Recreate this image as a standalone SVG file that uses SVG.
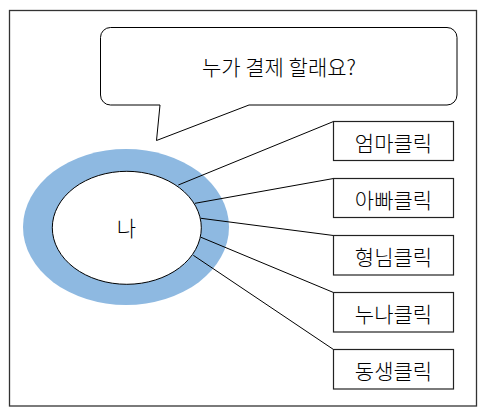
<svg xmlns="http://www.w3.org/2000/svg" width="487" height="416" viewBox="0 0 487 416">
<style>
.t{font-family:"Noto Sans CJK KR","Noto Sans",sans-serif;font-size:21px;font-weight:300;fill:#000;text-anchor:middle;dominant-baseline:central}
.box{fill:#fff;stroke:#222;stroke-width:1.2}
.ln{stroke:#000;stroke-width:1;fill:none}
</style>
<rect width="487" height="416" fill="#fff"/>
<rect id="frame" x="9.5" y="10.5" width="467" height="395.5" fill="none" stroke="#333" stroke-width="1.3"/>
<g id="bubble">
<path d="M110.5,27.5 H447 A10,10 0 0 1 457,37.5 V95 A10,10 0 0 1 447,105 H249 L156.5,140.5 L160,105 H110.5 A10,10 0 0 1 100.5,95 V37.5 A10,10 0 0 1 110.5,27.5 Z" fill="#fff" stroke="#000" stroke-width="1"/>
<text class="t" x="279" y="66">누가 결제 할래요?</text>
</g>
<g id="me">
<ellipse cx="126" cy="227" rx="103" ry="78" fill="#8EB9E1"/>
<ellipse cx="126.8" cy="227.8" rx="74.5" ry="56.5" fill="#fff" stroke="#000" stroke-width="1"/>
<text class="t" x="126.5" y="227">나</text>
</g>
<g id="connectors">
<line class="ln" x1="178.3" y1="185" x2="333.5" y2="121.5"/>
<line class="ln" x1="195" y1="203.3" x2="333.5" y2="178.5"/>
<line class="ln" x1="201" y1="218.3" x2="333.5" y2="235.5"/>
<line class="ln" x1="201" y1="237.3" x2="333.5" y2="292.5"/>
<line class="ln" x1="193.3" y1="255.3" x2="333.5" y2="349.5"/>
</g>
<g id="mom"><rect class="box" x="333.5" y="121.5" width="120" height="39"/><text class="t" x="393.5" y="141.5">엄마클릭</text></g>
<g id="dad"><rect class="box" x="333.5" y="178.5" width="120" height="39"/><text class="t" x="393.5" y="198.5">아빠클릭</text></g>
<g id="brother"><rect class="box" x="333.5" y="235.5" width="120" height="39.5"/><text class="t" x="393.5" y="255.5">형님클릭</text></g>
<g id="sister"><rect class="box" x="333.5" y="292.5" width="120" height="39.5"/><text class="t" x="393.5" y="312.5">누나클릭</text></g>
<g id="younger"><rect class="box" x="333.5" y="349.5" width="120" height="39.5"/><text class="t" x="393.5" y="369.5">동생클릭</text></g>
</svg>
